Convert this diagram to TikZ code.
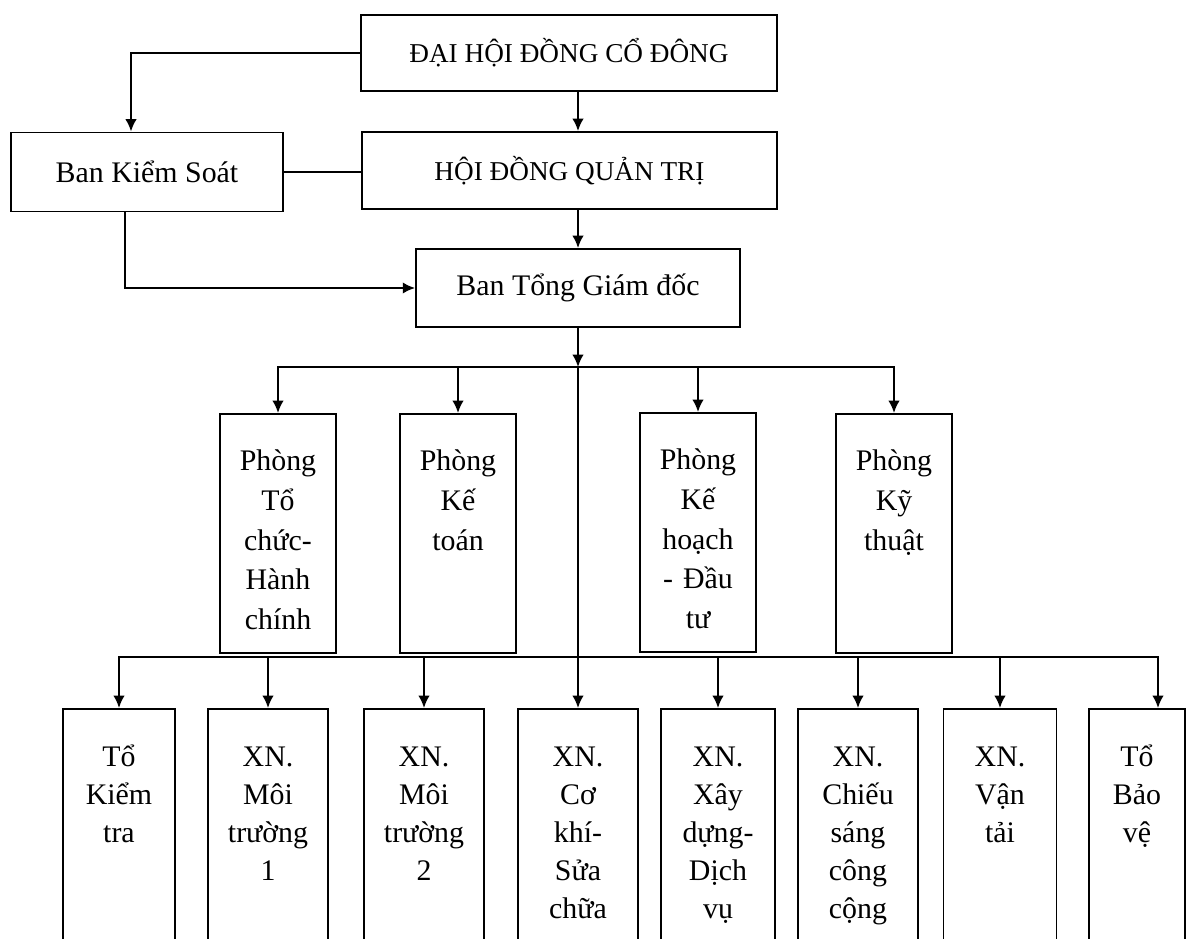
\documentclass[tikz,border=0pt]{standalone}
\usepackage{fontspec}
\setmainfont{Liberation Serif}
\usetikzlibrary{arrows.meta}

\begin{document}
\begin{tikzpicture}[
    x=0.02cm, y=-0.02cm,
    % Style for the wide boxes of the upper levels
    headbox/.style = {draw, line width=1.1pt, align=center, inner sep=0pt, font=\fontsize{15.5}{18}\selectfont},
    % Style for the tall boxes: text sits at the top, box runs down
    deptbox/.style = {draw, line width=1.1pt, anchor=north, align=center, inner sep=0pt,
                      text width=2.32cm, text height=1.14cm, text depth=3.64cm, font=\fontsize{17}{22.5}\selectfont},
    unitbox/.style = {deptbox, text width=2.4cm, text height=1.16cm, text depth=5cm, font=\fontsize{17}{21.5}\selectfont},
    % Style for the connectors
    line/.style = {line width=1.1pt},
    arrow/.style = {line, -{Latex[length=7pt, width=6.5pt]}}
]
    \useasboundingbox (0,0) rectangle (1188,939);
    \clip (0,0) rectangle (1188,939);

    % --- UPPER LEVELS ---
    \node[headbox, minimum width=8.32cm, minimum height=1.52cm] (dhcd) at (569,53) {ĐẠI HỘI ĐỒNG CỔ ĐÔNG};
    \node[headbox, minimum width=5.44cm, minimum height=1.58cm, font=\fontsize{17}{20}\selectfont] (bks) at (147,172) {Ban Kiểm Soát};
    \node[headbox, minimum width=8.3cm, minimum height=1.54cm] (hdqt) at (569.5,170.5) {HỘI ĐỒNG QUẢN TRỊ};
    \node[headbox, minimum width=6.48cm, minimum height=1.56cm, font=\fontsize{17}{20}\selectfont] (btgd) at (578,288) {Ban Tổng Giám đốc};

    % --- DEPARTMENTS ---
    \node[deptbox] (ptchc) at (278,413) {Phòng\\Tổ\\chức-\\Hành\\chính};
    \node[deptbox] (pkt) at (458,413) {Phòng\\Kế\\toán};
    \node[deptbox] (pkhdt) at (698,412) {Phòng\\Kế\\hoạch\\- Đầu\\tư};
    \node[deptbox] (pkyt) at (894,413) {Phòng\\Kỹ\\thuật};

    % --- UNITS ---
    \node[unitbox, text width=2.24cm] (tkt) at (119,708) {Tổ\\Kiểm\\tra};
    \node[unitbox] (xnmt1) at (268,708) {XN.\\Môi\\trường\\1};
    \node[unitbox] (xnmt2) at (424,708) {XN.\\Môi\\trường\\2};
    \node[unitbox] (xnck) at (578,708) {XN.\\Cơ\\khí-\\Sửa\\chữa};
    \node[unitbox, text width=2.28cm] (xnxd) at (718,708) {XN.\\Xây\\dựng-\\Dịch\\vụ};
    \node[unitbox] (xncs) at (858,708) {XN.\\Chiếu\\sáng\\công\\cộng};
    \node[unitbox, text width=2.26cm] (xnvt) at (1000,708) {XN.\\Vận\\tải};
    \node[unitbox, text width=1.92cm] (tbv) at (1137,708) {Tổ\\Bảo\\vệ};

    % --- CONNECTORS ---
    \draw[arrow] (dhcd.west) -| ([xshift=-0.32cm]bks.north);
    \draw[arrow] (dhcd.south -| btgd) -- (hdqt.north -| btgd);
    \draw[line] (bks.east) -- (bks.east -| hdqt.west);
    \draw[arrow] (hdqt.south -| btgd) -- (btgd.north);
    \draw[arrow] ([xshift=-0.44cm]bks.south) |- (btgd.west);

    \coordinate (bus1) at (btgd.south |- 0,367);
    \coordinate (bus2) at (btgd.south |- 0,657);
    \draw[arrow] (btgd.south) -- (bus1);
    \draw[arrow] (bus1) -- (xnck.north);
    \foreach \d in {ptchc, pkt, pkhdt, pkyt} {
        \draw[arrow] (bus1) -| (\d.north);
    }
    \foreach \u in {tkt, xnmt1, xnmt2, xnxd, xncs, xnvt} {
        \draw[arrow] (bus2) -| (\u.north);
    }
    \draw[arrow] (bus2) -| ([xshift=0.42cm]tbv.north);

\end{tikzpicture}
\end{document}
